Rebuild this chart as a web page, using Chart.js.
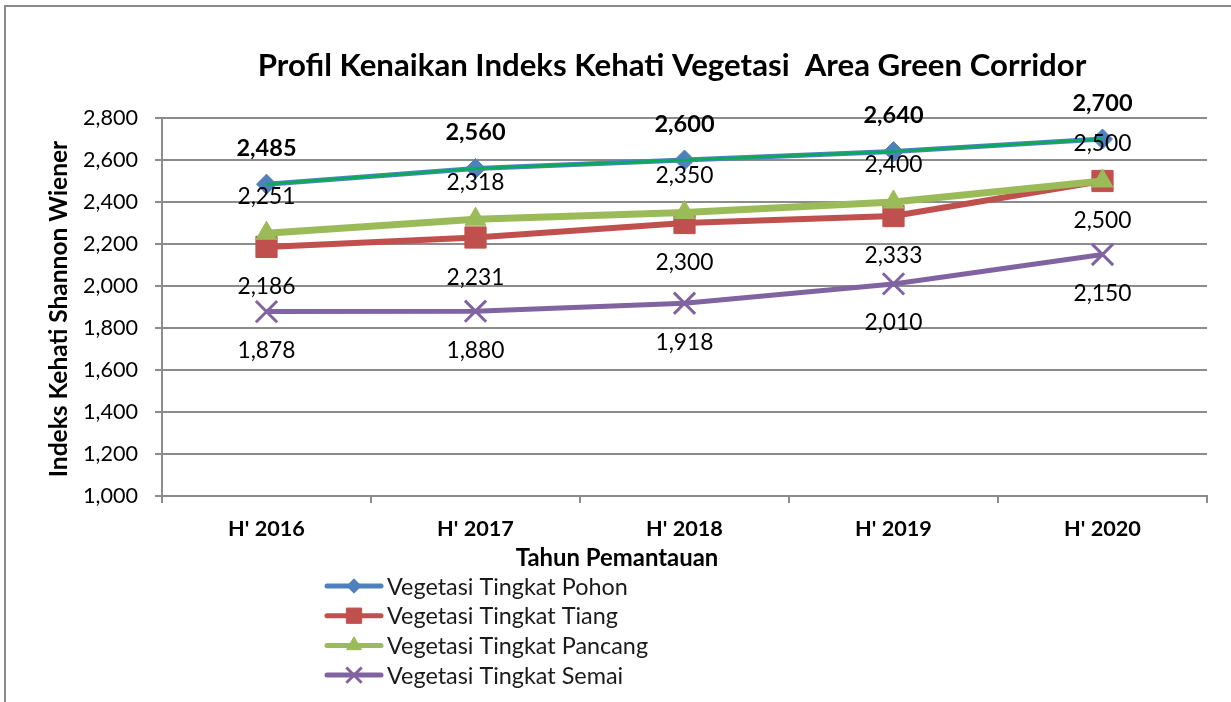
<!DOCTYPE html>
<html>
<head>
<meta charset="utf-8">
<title>Profil Kenaikan Indeks Kehati Vegetasi Area Green Corridor</title>
<script src="https://cdn.jsdelivr.net/npm/chart.js@4.4.1/dist/chart.umd.min.js"></script>
<style>
  html, body { margin: 0; padding: 0; background: #fff; }
  #wrap { width: 1231px; height: 702px; position: relative; }
</style>
</head>
<body>
<div id="wrap"><canvas id="chart" width="1231" height="702"></canvas></div>
<script>
// data
const categories = ["H' 2016", "H' 2017", "H' 2018", "H' 2019", "H' 2020"];
const pohon   = [2.485, 2.560, 2.600, 2.640, 2.700];
const tiang   = [2.186, 2.231, 2.300, 2.333, 2.500];
const pancang = [2.251, 2.318, 2.350, 2.400, 2.500];
const semai   = [1.878, 1.880, 1.918, 2.010, 2.150];
const seriesNames = ['Vegetasi Tingkat Pohon', 'Vegetasi Tingkat Tiang', 'Vegetasi Tingkat Pancang', 'Vegetasi Tingkat Semai'];
const yMin = 1.0, yMax = 2.8, yStep = 0.2;

const titleText = 'Profil Kenaikan Indeks Kehati Vegetasi  Area Green Corridor';
const yTitle = 'Indeks Kehati Shannon Wiener';
const xTitle = 'Tahun Pemantauan';

const FONT = 'Lato, Carlito, Calibri, sans-serif';
const GRID = '#8c8c8c';

const fmt = v => v.toFixed(3).replace('.', ',');

// pick a font size so that a sample string gets the width seen in the reference
const measureCtx = document.createElement('canvas').getContext('2d');
function fitSize(text, weight, width) {
  measureCtx.font = weight + ' 20px ' + FONT;
  return Math.round(20 * width / measureCtx.measureText(text).width * 10) / 10;
}
const titleSize  = fitSize(titleText, 'bold', 828);
const tickSize   = fitSize('2,800', 'normal', 55);
const xLabelSize = fitSize("H' 2020", 'bold', 77);
const xTitleSize = fitSize(xTitle, 'bold', 203);
const yTitleSize = fitSize(yTitle, 'bold', 337);
const legendSize = fitSize(seriesNames[0], 'normal', 241);
const valueSize  = fitSize('2,186', 'normal', 58);
const valueBold  = fitSize('2,485', 'bold', 60);

// per-series look: colour, marker, label offset
const styles = [
  { color: '#4f81bd', point: 'rectRot',  radius: 10, width: 5, pbw: 1, labelDy: -36, bold: true },
  { color: '#c0504d', point: 'rect',     radius: 15, width: 6, pbw: 1, labelDy: 40,  bold: false },
  { color: '#9bbb59', point: 'triangle', radius: 12, width: 7, pbw: 1, labelDy: -37, bold: false },
  { color: '#8064a2', point: 'crossRot', radius: 15, width: 5, pbw: 3, labelDy: 39,  bold: false }
];
const seriesData = [pohon, tiang, pancang, semai];

const datasets = seriesData.map((d, i) => ({
  label: seriesNames[i],
  data: d,
  borderColor: styles[i].color,
  backgroundColor: styles[i].color,
  borderWidth: styles[i].width,
  pointStyle: styles[i].point,
  pointRadius: styles[i].radius,
  pointHoverRadius: styles[i].radius,
  pointBackgroundColor: styles[i].color,
  pointBorderColor: styles[i].color,
  pointBorderWidth: styles[i].pbw,
  tension: 0,
  order: 3 - i
}));
// thin green line lying on the Pohon series, as in the reference
datasets.push({
  label: '_overlay',
  data: pohon,
  borderColor: '#00b050',
  borderWidth: 2.5,
  pointRadius: 0,
  tension: 0,
  order: -1
});

const frame = {
  id: 'frame',
  beforeDraw(chart) {
    const ctx = chart.ctx;
    ctx.save();
    ctx.fillStyle = '#fff';
    ctx.fillRect(0, 0, chart.width, chart.height);
    ctx.strokeStyle = GRID;
    ctx.lineWidth = 2;
    ctx.strokeRect(5, 6, chart.width + 20, chart.height + 20);
    ctx.restore();
  }
};

const texts = {
  id: 'texts',
  afterDraw(chart) {
    const ctx = chart.ctx;
    const a = chart.chartArea;
    ctx.save();
    ctx.fillStyle = '#000';
    ctx.textAlign = 'center';
    ctx.textBaseline = 'middle';
    ctx.font = 'bold ' + titleSize + 'px ' + FONT;
    ctx.fillText(titleText, 672, 66);
    // y title
    ctx.font = 'bold ' + yTitleSize + 'px ' + FONT;
    ctx.translate(59, (a.top + a.bottom) / 2 + 2);
    ctx.rotate(-Math.PI / 2);
    ctx.fillText(yTitle, 0, 0);
    ctx.setTransform(1, 0, 0, 1, 0, 0);
    // x title
    ctx.font = 'bold ' + xTitleSize + 'px ' + FONT;
    ctx.fillText(xTitle, 617, 558);
    // legend
    ctx.textAlign = 'left';
    ctx.font = legendSize + 'px ' + FONT;
    styles.forEach((s, i) => {
      const y = 586 + i * 29.7;
      ctx.strokeStyle = s.color;
      ctx.fillStyle = s.color;
      ctx.lineWidth = 5;
      ctx.lineCap = 'round';
      ctx.beginPath();
      ctx.moveTo(327, y);
      ctx.lineTo(381, y);
      ctx.stroke();
      ctx.lineCap = 'butt';
      ctx.lineWidth = s.pbw;
      Chart.helpers.drawPoint(ctx, { pointStyle: s.point, radius: s.radius * 0.72, borderWidth: s.pbw, rotation: 0 }, 354, y);
      ctx.fillStyle = '#1a1a1a';
      ctx.fillText(seriesNames[i], 387, y + 1);
    });
    ctx.restore();
  }
};

const valueLabels = {
  id: 'valueLabels',
  afterDatasetsDraw(chart) {
    const ctx = chart.ctx;
    ctx.save();
    ctx.textAlign = 'center';
    ctx.textBaseline = 'middle';
    ctx.fillStyle = '#000';
    styles.forEach((s, i) => {
      const meta = chart.getDatasetMeta(i);
      ctx.font = s.bold ? 'bold ' + valueBold + 'px ' + FONT : valueSize + 'px ' + FONT;
      meta.data.forEach((pt, j) => {
        ctx.fillText(fmt(seriesData[i][j]), pt.x, pt.y + s.labelDy);
      });
    });
    ctx.restore();
  }
};

new Chart(document.getElementById('chart'), {
  type: 'line',
  data: { labels: categories, datasets: datasets },
  options: {
    responsive: false,
    animation: false,
    layout: { padding: { left: 0, top: 118, right: 24, bottom: 0 } },
    plugins: {
      legend: { display: false },
      title: { display: false },
      tooltip: { enabled: false }
    },
    scales: {
      x: {
        offset: true,
        afterFit(s) { s.height = 206; },
        grid: { offset: true, drawOnChartArea: false, color: GRID, lineWidth: 2, tickLength: 7, tickColor: GRID },
        border: { color: GRID, width: 2 },
        ticks: { color: '#000', padding: 13, font: { family: FONT, size: xLabelSize, weight: 'bold' } }
      },
      y: {
        min: yMin,
        max: yMax,
        afterFit(s) { s.width = 162; },
        grid: { color: GRID, lineWidth: 2, tickLength: 7, tickColor: GRID },
        border: { color: GRID, width: 2 },
        ticks: {
          stepSize: yStep,
          color: '#000',
          padding: 17,
          font: { family: FONT, size: tickSize },
          callback: v => fmt(v)
        }
      }
    }
  },
  plugins: [frame, valueLabels, texts]
});
</script>
</body>
</html>
